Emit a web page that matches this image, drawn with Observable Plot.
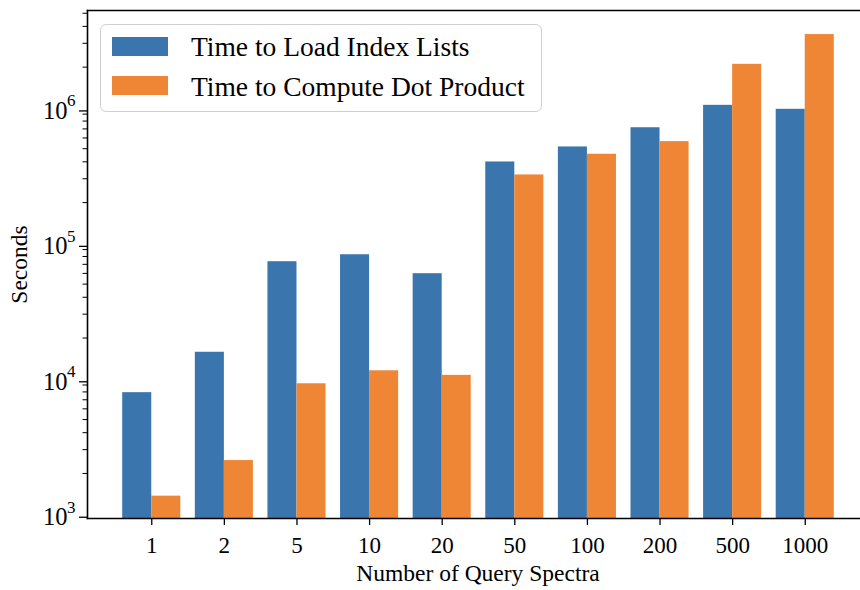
<!DOCTYPE html>
<html>
<head>
<meta charset="utf-8">
<script src="https://cdn.jsdelivr.net/npm/d3@7"></script>
<script src="https://cdn.jsdelivr.net/npm/@observablehq/plot@0.6"></script>
<style>
  body { margin: 0; background: #fff; }
  #wrap { position: relative; width: 860px; height: 590px; overflow: hidden; background: #fff;
          font-family: "Liberation Serif", "Times New Roman", serif; }
  #wrap svg { display: block; }
  .legend { position: absolute; left: 100px; top: 24px; width: 442px; height: 88px; box-sizing: border-box;
            border: 1.5px solid #cfcfcf; border-radius: 6px; background: rgba(255,255,255,0.85); }
  .sw { position: absolute; left: 11px; width: 56px; height: 19px; }
  .lt { position: absolute; left: 90px; font-size: 27.5px; line-height: 27px; color: #000; white-space: nowrap; }
</style>
</head>
<body>
<div id="wrap"></div>
<script>
// ---- data ----
const categories = ["1", "2", "5", "10", "20", "50", "100", "200", "500", "1000"];
const loadTimes = [7900, 15700, 73200, 82400, 59700, 399000, 515000, 714000, 1045000, 977000];
const computeTimes = [1360, 2490, 9190, 11460, 10600, 320000, 455000, 564000, 2100000, 3480000];
const seriesNames = ["Time to Load Index Lists", "Time to Compute Dot Product"];
const seriesColors = ["#3a75ae", "#ef8636"];
const yMajorTicks = [1e3, 1e4, 1e5, 1e6];
const yTickExponents = ["3", "4", "5", "6"];
const xLabel = "Number of Query Spectra";
const yLabel = "Seconds";

// ---- layout ----
const yMin = 930, yMax = 5.24e6;
const xRange = [87, 869];
const padInner = 0.2, padOuter = 0.485;
const step = (xRange[1] - xRange[0]) / (categories.length - padInner + 2 * padOuter);
const half = step * (1 - padInner) / 2;

const yMinor = [];
for (let e = 2; e <= 6; e++) for (let k = 1; k <= 9; k++) {
  const v = k * Math.pow(10, e);
  if (k > 1 && v >= yMin && v <= yMax) yMinor.push(v);
}

const fontFamily = "Liberation Serif, Times New Roman, serif";

const chart = Plot.plot({
  width: 860,
  height: 590,
  marginLeft: 87,
  marginRight: 0,
  marginTop: 10,
  marginBottom: 72,
  style: { fontFamily, fontSize: "23px", background: "white", color: "#000", overflow: "hidden" },
  x: { domain: categories, range: xRange, paddingInner: padInner, paddingOuter: padOuter, round: false, label: null },
  y: { type: "log", domain: [yMin, yMax], label: null },
  marks: [
    Plot.barY(categories, { x: d => d, y1: yMin, y2: (d, i) => loadTimes[i], fill: seriesColors[0], insetRight: half }),
    Plot.barY(categories, { x: d => d, y1: yMin, y2: (d, i) => computeTimes[i], fill: seriesColors[1], insetLeft: half }),
    Plot.frame({ anchor: "left", stroke: "#000", strokeWidth: 1.6 }),
    Plot.frame({ anchor: "top", stroke: "#000", strokeWidth: 1.6 }),
    Plot.frame({ anchor: "bottom", stroke: "#000", strokeWidth: 1.6 }),
    Plot.axisX({ tickSize: 7, tickPadding: 11, fontSize: 23, label: null, strokeWidth: 1.3 }),
    Plot.axisY({ ticks: yMinor, tickSize: 4.5, tickFormat: () => "", label: null, strokeWidth: 1 }),
    Plot.axisY({ ticks: yMajorTicks, tickSize: 8, tickPadding: 12, tickFormat: () => "10", fontSize: 24.5, dy: 3, label: null, strokeWidth: 1.3 }),
    Plot.text(yMajorTicks, { y: d => d, text: (d, i) => yTickExponents[i], frameAnchor: "left", dx: -20.5, textAnchor: "start", fontSize: 17, dy: -7 }),
    Plot.text([xLabel], { frameAnchor: "bottom", textAnchor: "middle", dy: 62, dx: 4, fontSize: 23.5 }),
    Plot.text([yLabel], { frameAnchor: "left", textAnchor: "middle", dx: -68, rotate: -90, fontSize: 23.5 })
  ]
});

const wrap = document.getElementById("wrap");
wrap.appendChild(chart);

const legend = document.createElement("div");
legend.className = "legend";
seriesNames.forEach((name, i) => {
  const sw = document.createElement("div");
  sw.className = "sw";
  sw.style.top = (12 + 39 * i) + "px";
  sw.style.background = seriesColors[i];
  legend.appendChild(sw);
  const t = document.createElement("div");
  t.className = "lt";
  t.style.top = (8 + 40 * i) + "px";
  t.textContent = name;
  legend.appendChild(t);
});
wrap.appendChild(legend);
</script>
</body>
</html>
